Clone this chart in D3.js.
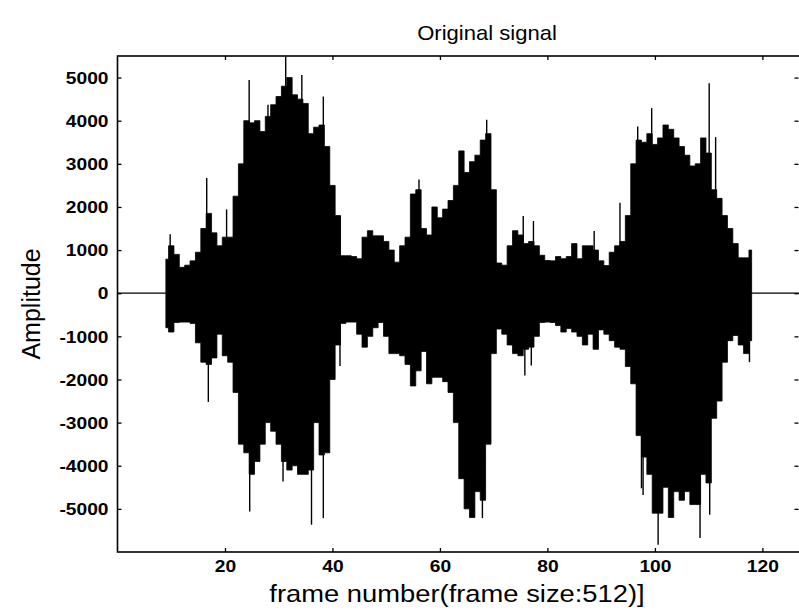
<!DOCTYPE html>
<html>
<head>
<meta charset="utf-8">
<script src="https://cdn.jsdelivr.net/npm/d3@7"></script>
<style>
  body { margin: 0; background: #fff; }
  text { font-family: "Liberation Sans", Arial, sans-serif; fill: #000; }
</style>
</head>
<body>
<svg id="canvas"></svg>
<script>
// envelope of the signal, one value per frame (frames 9..118)
let firstFrame = 9
let upperEnv = [
  790, 1100, 900, 600, 650, 750, 950, 1500, 1850, 1400,
  1100, 1300, 1300, 2250, 3000, 4000, 3950, 4000, 3750, 4100,
  4370, 4560, 4800, 5000, 4600, 4500, 4400, 3700, 3850, 3900,
  3400, 2500, 1800, 870, 870, 850, 800, 1300, 1450, 1330,
  1330, 1200, 1000, 720, 1100, 1300, 2300, 2400, 1500, 1350,
  2000, 1750, 1950, 2150, 2500, 3300, 2800, 3050, 3200, 3550,
  3700, 2400, 700, 650, 1100, 1450, 1350, 1150, 1200, 1100,
  880, 760, 750, 850, 800, 850, 1150, 800, 1100, 1100,
  1000, 750, 640, 950, 1100, 1200, 1800, 3000, 3550, 3500,
  3700, 3450, 3600, 3900, 3800, 3600, 3400, 3200, 2950, 3000,
  3600, 3250, 2400, 2200, 1800, 1500, 1150, 820, 820, 1000
]
let lowerEnv = [
  -800, -900, -680, -670, -670, -700, -1150, -1600, -1650, -1500,
  -950, -1450, -1600, -2300, -3500, -3700, -4200, -3900, -3500, -3000,
  -3200, -3500, -3900, -4100, -4000, -4200, -4200, -4100, -3000, -3750,
  -3700, -2000, -1200, -700, -670, -670, -950, -1250, -1000, -800,
  -680, -1000, -1400, -1400, -1450, -1650, -2150, -1800, -1350, -2100,
  -1950, -1950, -2050, -2300, -3000, -4300, -5000, -5200, -4600, -4800,
  -3500, -1400, -830, -950, -1200, -1400, -1450, -1300, -1250, -1000,
  -680, -670, -680, -750, -900, -820, -900, -1000, -1200, -950,
  -1300, -850, -950, -1100, -1250, -1300, -1700, -2100, -3300, -3800,
  -4200, -5100, -5100, -4500, -5200, -4600, -4800, -4600, -4900, -4900,
  -4200, -4400, -2900, -2500, -1600, -1100, -980, -1200, -1400, -1100
]

// isolated peaks sticking out of the envelope
let spikeFrames = [9.8, 16.6, 20.3, 24.5, 28.0, 31.3, 34.3, 38.3, 41.4, 56.1, 68.7, 75.5, 77.4, 88.7, 93.5, 96.8, 99.4, 110.1, 111.3,
                   16.9, 24.6, 30.8, 36.1, 38.3, 41.4, 67.9, 75.8, 77.0, 97.5, 97.8, 100.6, 108.4, 110.2, 117.6]
let spikeValues = [1367, 2674, 1944, 4946, 4368, 5484, 5061, 4560, 1790, 2636, 4022, 1790, 1675, 1444, 2097, 3868, 4291, 4868, 3620,
                   -2521, -5061, -4368, -5368, -5215, -1690, -5215, -1906, -1675, -4522, -4676, -5830, -5676, -5137, -1598]

let xTicks = [20, 40, 60, 80, 100, 120]
let yTicks = [-5000, -4000, -3000, -2000, -1000, 0, 1000, 2000, 3000, 4000, 5000]

let width = 799
let height = 612
let plotLeft = 117.5
let plotRight = 800
let plotTop = 56
let plotBottom = 552

let svg = d3.select("#canvas")
    .attr("width", width)
    .attr("height", height)

let xScale = d3.scaleLinear().domain([0, 127]).range([plotLeft, plotRight])
let yScale = d3.scaleLinear().domain([-6000, 5500]).range([plotBottom, plotTop])

let envelope = upperEnv.map((u, i) => {
    return {f: firstFrame + i, hi: u, lo: lowerEnv[i]}
})

let drawSignal = () => {
    // flat zero line where there is no sound
    svg.append("path")
        .datum([0, 127])
        .attr("fill", "none")
        .attr("stroke", "#000")
        .attr("stroke-width", 1.3)
        .attr("d", d3.line().x((d) => xScale(d)).y(() => yScale(0)))

    svg.append("path")
        .datum(envelope)
        .attr("fill", "#000")
        .attr("stroke", "#000")
        .attr("stroke-width", 0.8)
        .attr("d", d3.area()
            .x((d) => xScale(d.f))
            .y0((d) => yScale(d.lo))
            .y1((d) => yScale(d.hi))
            .curve(d3.curveStep))

    svg.selectAll("line.spike")
        .data(spikeFrames)
        .enter()
        .append("line")
        .attr("class", "spike")
        .attr("x1", (d) => xScale(d))
        .attr("x2", (d) => xScale(d))
        .attr("y1", yScale(0))
        .attr("y2", (d, i) => yScale(spikeValues[i]))
        .attr("stroke", "#000")
        .attr("stroke-width", 1.4)
}

let drawAxes = () => {
    // plain hyphen for negatives, like the original
    let xAxis = d3.axisBottom(xScale).tickValues(xTicks).tickSize(-4).tickPadding(9)
                .tickFormat((d) => String(d))
    let yAxis = d3.axisLeft(yScale).tickValues(yTicks).tickSize(-4).tickPadding(9)
                .tickFormat((d) => String(d))

    let gx = svg.append("g")
        .attr("transform", "translate(0," + plotBottom + ")")
        .call(xAxis)
    let gy = svg.append("g")
        .attr("transform", "translate(" + plotLeft + ",0)")
        .call(yAxis)

    // mirrored ticks on top and right, matlab box style
    svg.append("g")
        .attr("transform", "translate(0," + plotTop + ")")
        .call(d3.axisTop(xScale).tickValues(xTicks).tickSize(-4).tickFormat(""))
    svg.append("g")
        .attr("transform", "translate(" + (plotRight - 1.5) + ",0)")
        .call(d3.axisRight(yScale).tickValues(yTicks).tickSize(-4).tickFormat(""))

    svg.selectAll(".domain").remove()
    svg.selectAll(".tick line").attr("stroke", "#000").attr("stroke-width", 1.3)

    gx.selectAll("text")
        .attr("font-size", 16)
        .attr("font-weight", "bold")
        .attr("transform", "scale(1.2,1)")
    gy.selectAll("text")
        .attr("font-size", 16)
        .attr("font-weight", "bold")
        .attr("dy", "0.36em")
        .attr("transform", "scale(1.2,1)")
        .attr("x", -7.5)

    // plot box
    svg.append("rect")
        .attr("x", plotLeft)
        .attr("y", plotTop)
        .attr("width", plotRight - plotLeft)
        .attr("height", plotBottom - plotTop)
        .attr("fill", "none")
        .attr("stroke", "#000")
        .attr("stroke-width", 1.6)
}

let drawLabels = () => {
    svg.append("text")
        .attr("transform", "translate(487,40) scale(1.05,1)")
        .attr("text-anchor", "middle")
        .attr("font-size", 21)
        .text("Original signal")

    svg.append("text")
        .attr("transform", "translate(457,602) scale(1.14,1)")
        .attr("text-anchor", "middle")
        .attr("font-size", 24)
        .text("frame number(frame size:512)]")

    svg.append("text")
        .attr("transform", "translate(40," + ((plotTop + plotBottom) / 2) + ") rotate(-90)")
        .attr("text-anchor", "middle")
        .attr("font-size", 25)
        .text("Amplitude")
}

drawSignal()
drawAxes()
drawLabels()
</script>
</body>
</html>
